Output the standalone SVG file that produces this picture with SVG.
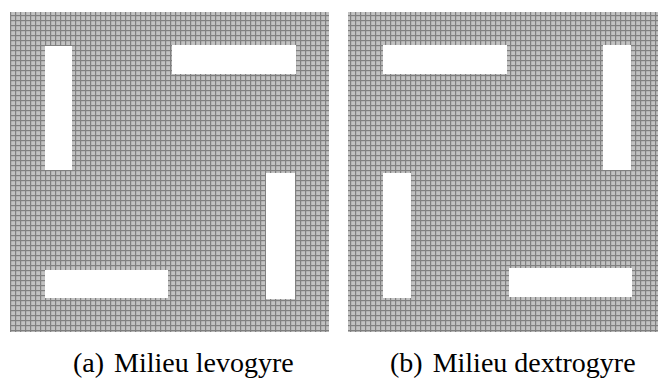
<svg xmlns="http://www.w3.org/2000/svg" width="658" height="380" viewBox="0 0 658 380">
<defs>
<pattern id="grid" width="5" height="5" patternUnits="userSpaceOnUse">
<rect width="5" height="5" fill="#c2c2c2"/>
<rect width="5" height="1.2" fill="#808080"/>
<rect width="1.2" height="5" fill="#808080"/>
</pattern>
</defs>
<style>
.panel{fill:url(#grid)}
.hole{fill:#ffffff}
.cap{font-family:"Liberation Serif","Times New Roman",serif;font-size:28px;fill:#000}
</style>
<g id="panel-a">
<rect class="panel" x="10" y="12" width="319" height="320"/>
<rect class="hole" x="45" y="46" width="27" height="124"/>
<rect class="hole" x="172" y="45" width="124" height="29"/>
<rect class="hole" x="266" y="173" width="29" height="126"/>
<rect class="hole" x="45" y="270" width="123" height="28"/>
</g>
<g id="panel-b">
<rect class="panel" x="348" y="12" width="310" height="320"/>
<rect class="hole" x="383" y="45" width="124" height="29"/>
<rect class="hole" x="603" y="45" width="28" height="125"/>
<rect class="hole" x="383" y="173" width="28" height="125"/>
<rect class="hole" x="509" y="268" width="123" height="29"/>
</g>
<g id="connectors"/>
<text class="cap" x="73" y="372">(a)<tspan dx="10">Milieu levogyre</tspan></text>
<text class="cap" x="390" y="372">(b)<tspan dx="10">Milieu dextrogyre</tspan></text>
</svg>
